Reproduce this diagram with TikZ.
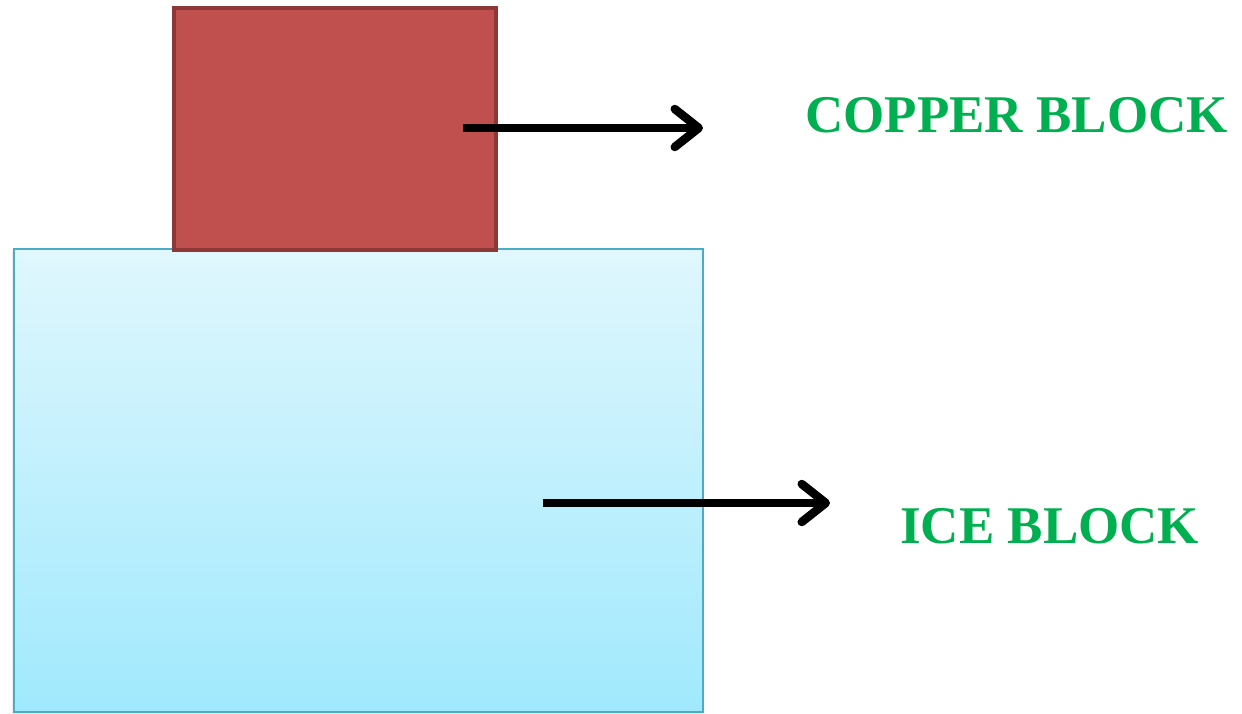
\documentclass[tikz,border=0pt]{standalone}
\usepackage{fontspec}
\setmainfont{Liberation Serif}
\usetikzlibrary{arrows.meta,shadows}
\definecolor{copperfill}{HTML}{C0504D}
\definecolor{copperline}{HTML}{8C3836}
\definecolor{icetop}{HTML}{E0F7FD}
\definecolor{icebot}{HTML}{A0E9FD}
\definecolor{iceline}{HTML}{4BACC6}
\definecolor{labelgreen}{HTML}{00B050}
\tikzset{
  blockbox/.style={rectangle, inner sep=0pt, outer sep=0pt},
  pointer/.style={line width=7.5pt, -{Straight Barb[length=24pt, width=38pt, line width=8.5pt, line cap=round, line join=round]}},
  blocklabel/.style={anchor=base west, inner sep=0pt, text=labelgreen, font=\fontsize{53}{60}\selectfont\bfseries}
}
\begin{document}
\begin{tikzpicture}[x=1pt,y=-1pt]
\useasboundingbox (0,0) rectangle (1242,714);
\node[blockbox, draw=iceline, line width=2pt, top color=icetop, bottom color=icebot,
  drop shadow={shadow xshift=-2pt, shadow yshift=-2pt, opacity=0.15},
  minimum width=689pt, minimum height=463pt] (ice) at (358.5,480.5) {};
\node[blockbox, draw=copperline, fill=copperfill, line width=4pt,
  minimum width=322pt, minimum height=242pt] (copper) at (335,129) {};
\coordinate (cstart) at (463,128);
\coordinate (cend) at (703,128);
\coordinate (istart) at (543,503);
\coordinate (iend) at (830,503);
\draw[pointer] (cstart) -- (cend);
\draw[pointer] (istart) -- (iend);
\node[blocklabel] (clabel) at (805,133) {COPPER BLOCK};
\node[blocklabel] (ilabel) at (900,543) {ICE BLOCK};
\end{tikzpicture}
\end{document}
